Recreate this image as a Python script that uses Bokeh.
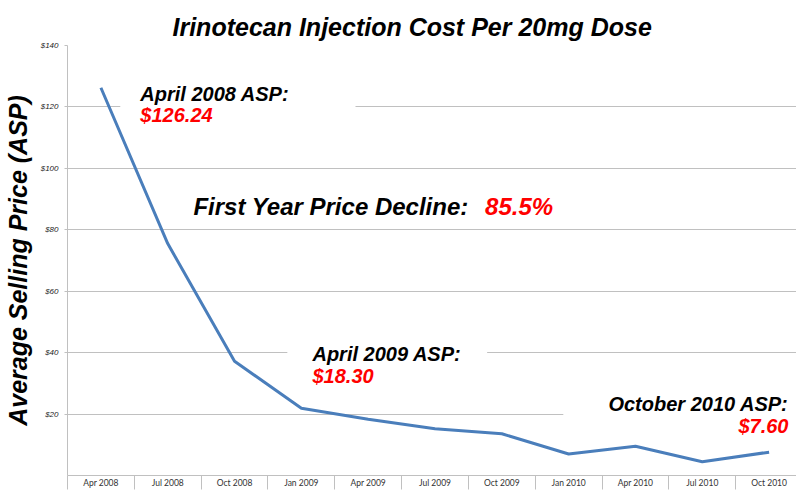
from bokeh.plotting import figure
from bokeh.models import Range1d, FixedTicker, Label, BoxAnnotation
from bokeh.embed import file_html
from bokeh.resources import INLINE

# ---- data ----
categories = ["Apr 2008", "Jul 2008", "Oct 2008", "Jan 2009", "Apr 2009", "Jul 2009",
              "Oct 2009", "Jan 2010", "Apr 2010", "Jul 2010", "Oct 2010"]
asp = [126.24, 75.5, 37.2, 21.9, 18.30, 15.2, 13.6, 7.0, 9.5, 4.5, 7.60]
y_ticks = [20, 40, 60, 80, 100, 120, 140]
y_tick_labels = ["$20", "$40", "$60", "$80", "$100", "$120", "$140"]

x_pos = list(range(len(categories)))
boundaries = [i - 0.5 for i in range(len(categories) + 1)]

FONT = "Liberation Sans"
GRID = "#c0c0c0"

p = figure(width=796, height=490, output_backend="svg", toolbar_location=None,
           x_range=Range1d(-0.5, 10.41), y_range=Range1d(0, 140),
           min_border_left=67, min_border_right=0, min_border_top=45, min_border_bottom=13)
p.outline_line_color = None

p.title.text = "Irinotecan Injection Cost Per 20mg Dose"
p.title.text_font = FONT
p.title.text_font_style = "bold italic"
p.title.text_font_size = "25px"
p.title.text_color = "black"
p.title.align = "left"
p.title.offset = 105
p.title.standoff = 10

# x axis
p.xaxis.ticker = FixedTicker(ticks=x_pos, minor_ticks=boundaries)
p.xaxis.major_label_overrides = {i: c for i, c in zip(x_pos, categories)}
p.xaxis.major_tick_out = 0
p.xaxis.major_tick_in = 0
p.xaxis.minor_tick_out = 14
p.xaxis.minor_tick_in = 0
p.xaxis.minor_tick_line_color = GRID
p.xaxis.axis_line_color = GRID
p.xaxis.major_label_text_font = "Lato"
p.xaxis.major_label_text_font_size = "8.5px"
p.xaxis.major_label_text_color = "#333333"
p.xaxis.major_label_standoff = -12
p.xgrid.visible = False

# y axis
p.yaxis.ticker = FixedTicker(ticks=y_ticks)
p.yaxis.major_label_overrides = {t: l for t, l in zip(y_ticks, y_tick_labels)}
p.yaxis.major_tick_out = 3
p.yaxis.major_tick_in = 0
p.yaxis.major_tick_line_color = GRID
p.yaxis.minor_tick_line_color = None
p.yaxis.axis_line_color = GRID
p.yaxis.major_label_text_font = FONT
p.yaxis.major_label_text_font_style = "italic"
p.yaxis.major_label_text_font_size = "8px"
p.yaxis.major_label_text_color = "#222222"
p.yaxis.major_label_standoff = 6
p.yaxis.axis_label = "Average Selling Price (ASP)"
p.yaxis.axis_label_text_font = FONT
p.yaxis.axis_label_text_font_style = "bold italic"
p.yaxis.axis_label_text_font_size = "25px"
p.yaxis.axis_label_text_color = "black"
p.yaxis.axis_label_standoff = 6
p.ygrid.grid_line_color = GRID
p.ygrid.grid_line_width = 1

p.line(x_pos, asp, line_color="#4A7EBB", line_width=3)

# white text boxes that interrupt the gridlines
for l, r, b, t in [(0.29, 3.81, 115, 125), (2.79, 5.78, 37, 43), (6.92, 11.0, 17, 23)]:
    p.add_layout(BoxAnnotation(left=l, right=r, bottom=b, top=t, fill_color="white",
                               fill_alpha=1.0, line_color=None))


def lab(x, y, text, color="black", size="20px", align="left"):
    p.add_layout(Label(x=x, y=y, text=text, text_font=FONT, text_font_style="bold italic",
                       text_font_size=size, text_color=color, text_align=align,
                       text_baseline="alphabetic"))


lab(0.59, 124.3, "April 2008 ASP:")
lab(0.59, 117.5, "$126.24", color="#ff0000")
lab(1.385, 87.6, "First Year Price Decline:", size="24px")
lab(5.75, 87.6, "85.5%", color="#ff0000", size="24px")
lab(3.166, 39.5, "April 2009 ASP:")
lab(3.166, 32.4, "$18.30", color="#ff0000")
lab(10.29, 23.3, "October 2010 ASP:", align="right")
lab(10.29, 16.2, "$7.60", color="#ff0000", align="right")

open("out.html", "w").write(file_html(p, INLINE))
